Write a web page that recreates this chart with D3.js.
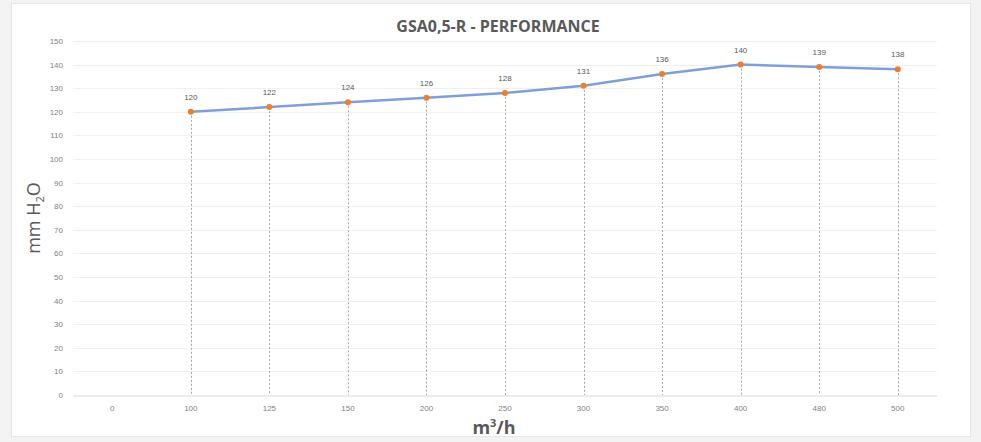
<!DOCTYPE html>
<html><head><meta charset="utf-8">
<script src="https://cdn.jsdelivr.net/npm/d3@7"></script>
<style>
html,body{margin:0;padding:0;background:#f3f3f3;}
svg{display:block;}
</style></head>
<body>
<svg id="chart" width="981" height="442"></svg>
<script>
const categories = ["0","100","125","150","200","250","300","350","400","480","500"];
const values = [null,120,122,124,126,128,131,136,140,139,138];
const yTicks = [0,10,20,30,40,50,60,70,80,90,100,110,120,130,140,150];
const title = "GSA0,5-R - PERFORMANCE";

const svg = d3.select("#chart");
const W = 981, H = 442;
const m = {left:73, right:44, top:41, bottom:47};

svg.append("rect").attr("x",11.5).attr("y",3.5).attr("width",959).attr("height",433)
  .attr("fill","#fff").attr("stroke","#e6e6e6");

const x = d3.scaleBand().domain(categories).range([m.left, W - m.right]).padding(0);
const y = d3.scaleLinear().domain([0,150]).range([H - m.bottom, m.top]);

// horizontal grid
svg.append("g").selectAll("line").data(yTicks.slice(1)).join("line")
  .attr("x1", m.left).attr("x2", W - m.right)
  .attr("y1", d => Math.round(y(d))+0.5).attr("y2", d => Math.round(y(d))+0.5)
  .attr("stroke","#f0f0f0").attr("stroke-width",1);

// x axis
const xAxis = svg.append("g").attr("transform",`translate(0,${Math.round(y(0))+0.5})`)
  .call(d3.axisBottom(x).tickSize(0).tickPadding(10));
xAxis.select(".domain").attr("stroke","#d9d9d9");
xAxis.selectAll("text").attr("fill","#7f7f7f").style("font-family","Liberation Sans, sans-serif").style("font-size","8px");

// y axis
const yAxis = svg.append("g").attr("transform",`translate(${m.left},0)`)
  .call(d3.axisLeft(y).tickValues(yTicks).tickSize(0).tickPadding(10));
yAxis.select(".domain").remove();
yAxis.selectAll("text").attr("fill","#7f7f7f").style("font-family","Liberation Sans, sans-serif").style("font-size","8px");

const pts = categories.map((c,i)=>({c, v: values[i]})).filter(d => d.v != null);
const cx = d => x(d.c) + x.bandwidth()/2;

// drop lines
svg.append("g").selectAll("line").data(pts).join("line")
  .attr("x1", d => Math.round(cx(d))+0.5).attr("x2", d => Math.round(cx(d))+0.5)
  .attr("y1", d => y(d.v)).attr("y2", y(0))
  .attr("stroke","#a6a6a6").attr("stroke-width",1).attr("stroke-dasharray","2,2");

// line
svg.append("path").datum(pts)
  .attr("d", d3.line().x(cx).y(d => y(d.v)))
  .attr("fill","none").attr("stroke","#7f9fd6").attr("stroke-width",2.5)
  .attr("stroke-linejoin","round");

// markers
svg.append("g").selectAll("circle").data(pts).join("circle")
  .attr("cx", cx).attr("cy", d => y(d.v)).attr("r",3)
  .attr("fill","#ed7d31");

// data labels
svg.append("g").selectAll("text").data(pts).join("text")
  .attr("x", cx).attr("y", d => y(d.v) - 12)
  .attr("text-anchor","middle")
  .attr("fill","#595959").style("font-family","Liberation Sans, sans-serif").style("font-size","8px")
  .text(d => d.v);

// title
svg.append("text").attr("x",498).attr("y",32).attr("text-anchor","middle")
  .attr("fill","#595959").style("font-family","Open Sans, sans-serif").style("font-weight","bold").style("font-size","16px")
  .text(title);

// y title
const yt = svg.append("text").attr("transform",`translate(40,${(y(0)+y(150))/2}) rotate(-90)`)
  .attr("text-anchor","middle").attr("fill","#595959")
  .style("font-family","Open Sans, sans-serif").style("font-size","18px");
yt.append("tspan").text("mm H");
yt.append("tspan").attr("dy",4).style("font-size","11px").text("2");
yt.append("tspan").attr("dy",-4).text("O");

// x title
const xt = svg.append("text").attr("x",494).attr("y",434).attr("text-anchor","middle")
  .attr("fill","#595959").style("font-family","Open Sans, sans-serif").style("font-size","18px").style("font-weight","bold");
xt.append("tspan").text("m");
xt.append("tspan").attr("dy",-7).style("font-size","11px").text("3");
xt.append("tspan").attr("dy",7).text("/h");
</script>
</body></html>
